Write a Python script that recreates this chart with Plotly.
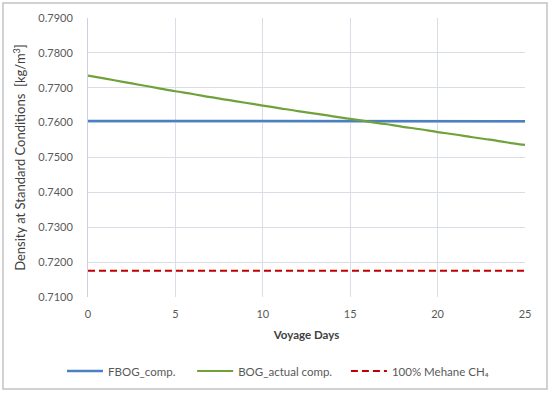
import plotly.graph_objects as go

days = list(range(0, 26))
fbog = [0.7605, 0.7605, 0.7605, 0.7604, 0.7604, 0.7604, 0.7604, 0.7604, 0.7604, 0.7604,
        0.7604, 0.7604, 0.7604, 0.7604, 0.7604, 0.7604, 0.7604, 0.7604, 0.7604, 0.7604,
        0.7604, 0.7604, 0.7604, 0.7604, 0.7604, 0.7604]
bog_actual = [0.7735, 0.7726, 0.7717, 0.7708, 0.7699, 0.7690, 0.7682, 0.7673, 0.7665, 0.7657,
              0.7649, 0.7641, 0.7633, 0.7626, 0.7618, 0.7611, 0.7603, 0.7596, 0.7588, 0.7581,
              0.7573, 0.7566, 0.7558, 0.7551, 0.7543, 0.7536]
methane_days = [0, 25]
methane = [0.7175, 0.7175]

names = ["FBOG_comp.\u00a0\u00a0\u00a0\u00a0", "BOG_actual comp.\u00a0\u00a0\u00a0",
         "100% Mehane CH\u2084"]

font_family = "Lato, 'Open Sans', sans-serif"
tick_color = "#595959"
grid_color = "#d9dee6"

fig = go.Figure()
fig.add_trace(go.Scatter(x=days, y=fbog, mode="lines", name=names[0],
                         line=dict(color="#4a80c4", width=2.5)))
fig.add_trace(go.Scatter(x=days, y=bog_actual, mode="lines", name=names[1],
                         line=dict(color="#6fa23b", width=2.2, shape="spline")))
fig.add_trace(go.Scatter(x=methane_days, y=methane, mode="lines", name=names[2],
                         line=dict(color="#c00000", width=2, dash="7px,4px")))

l, r, t, b = 88, 25, 18, 96
W, H = 550, 393
pw = W - l - r
ph = H - t - b

fig.update_layout(
    width=W, height=H,
    margin=dict(l=l, r=r, t=t, b=b, autoexpand=False),
    plot_bgcolor="white", paper_bgcolor="white",
    font=dict(family=font_family, size=11.5, color=tick_color),
    showlegend=True,
    legend=dict(orientation="h", x=(62 - l) / pw, xanchor="left",
                y=(H - b - 371) / ph, yanchor="middle",
                font=dict(size=11.5, color=tick_color), itemwidth=36,
                tracegroupgap=0),
    xaxis=dict(range=[0, 25], dtick=5, tick0=0, showgrid=True, gridcolor=grid_color,
               gridwidth=1, zeroline=False, showline=False, ticks="",
               ticklabelstandoff=9, automargin=False,
               tickfont=dict(size=11, color=tick_color),
               title=dict(text="<b>Voyage Days</b>", font=dict(size=11.5, color="#404040"),
                          standoff=11)),
    yaxis=dict(range=[0.71, 0.79], dtick=0.01, tick0=0.71, tickformat=".4f",
               showgrid=True, gridcolor=grid_color, gridwidth=1, zeroline=False,
               showline=True, linecolor="#c9d1dc", linewidth=1, ticks="",
               ticklabelstandoff=12, automargin=False,
               tickfont=dict(size=11, color=tick_color),
               title=dict(text="Density at Standard Conditions  [kg/m<sup>3</sup>]",
                          font=dict(size=13, color="#404040"), standoff=9)),
    shapes=[dict(type="rect", xref="paper", yref="paper",
                 x0=(3 - l) / pw, x1=(547 - l) / pw,
                 y0=(H - b - 389) / ph, y1=(H - b - 3) / ph,
                 line=dict(color="#c4c4c4", width=1.5), fillcolor="rgba(0,0,0,0)",
                 layer="below")],
)

fig.write_html("out.html", config={"displayModeBar": False},
               post_script="document.body.style.margin='0';document.body.style.overflow='hidden';")
